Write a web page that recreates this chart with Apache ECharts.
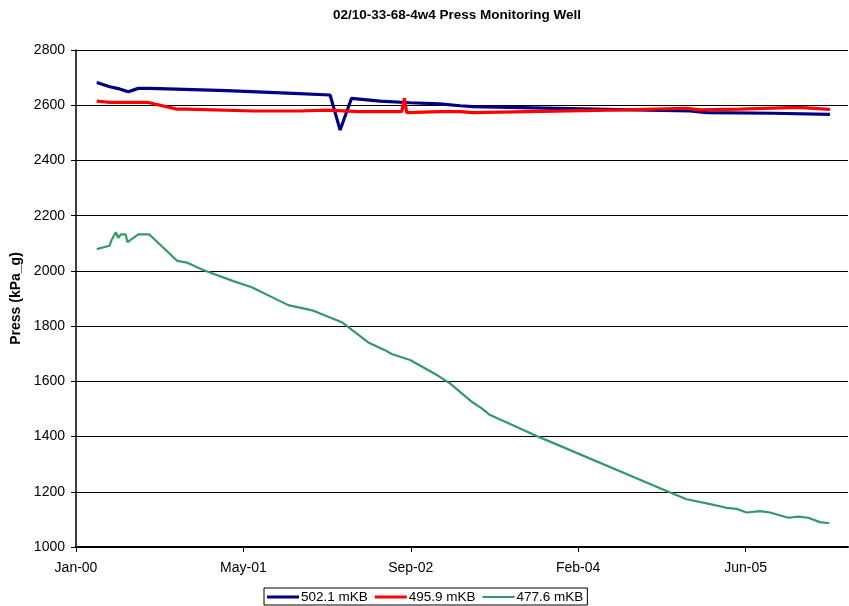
<!DOCTYPE html>
<html>
<head>
<meta charset="utf-8">
<script src="https://cdn.jsdelivr.net/npm/echarts@6/dist/echarts.min.js"></script>
<style>
html,body{margin:0;padding:0;background:#fff;}
#chart{width:849px;height:606px;}
</style>
</head>
<body>
<div id="chart"></div>
<script>
// x values: days since 2000-01-01
var blueDays   = [62, 101, 130, 156, 186, 221, 450, 649, 759, 789, 823, 908, 998, 1087, 1147, 1186, 1585, 1834, 1884, 2082, 2252];
var blueValues = [2682, 2667, 2659, 2649, 2661, 2661, 2653, 2643, 2637, 2510, 2625, 2615, 2609, 2605, 2598, 2595, 2585, 2579, 2573, 2571, 2567];

var redDays   = [62, 101, 216, 301, 331, 530, 669, 749, 848, 973, 981, 988, 1087, 1147, 1186, 1635, 1824, 1864, 1983, 2157, 2252];
var redValues = [2615, 2610, 2610, 2586, 2586, 2579, 2579, 2582, 2577, 2577, 2625, 2573, 2577, 2577, 2573, 2583, 2589, 2583, 2586, 2592, 2585];

var greenDays   = [62, 100, 107, 119, 126, 134, 148, 154, 186, 219, 303, 331, 380, 470, 525, 634, 709, 794, 873, 923, 943, 998, 1082, 1120, 1147, 1182, 1212, 1237, 1386, 1764, 1824, 1884, 1943, 1973, 2003, 2043, 2073, 2128, 2157, 2187, 2222, 2250];
var greenValues = [2079, 2091, 2114, 2140, 2120, 2132, 2132, 2104, 2132, 2132, 2036, 2030, 2003, 1963, 1941, 1876, 1856, 1814, 1741, 1713, 1699, 1677, 1620, 1590, 1562, 1526, 1502, 1478, 1397, 1203, 1173, 1158, 1142, 1138, 1125, 1130, 1125, 1106, 1110, 1106, 1090, 1086];

var seriesNames = ['502.1 mKB', '495.9 mKB', '477.6 mKB'];
var yTicks = {min: 1000, max: 2800, interval: 200};
var months = ['Jan','Feb','Mar','Apr','May','Jun','Jul','Aug','Sep','Oct','Nov','Dec'];

function pairs(xs, ys) { return xs.map(function (x, i) { return [x, ys[i]]; }); }
function dayLabel(d) {
  var dt = new Date(Date.UTC(2000, 0, 1) + d * 86400000);
  var yy = String(dt.getUTCFullYear() % 100);
  if (yy.length < 2) yy = '0' + yy;
  return months[dt.getUTCMonth()] + '-' + yy;
}

var thickIcon = 'path://M0,0L0.01,0M0,0.4L32,0.4L32,3.6L0,3.6ZM0,4L0.01,4';
var thinIcon  = 'path://M0,0L0.01,0M0,1.1L32,1.1L32,2.9L0,2.9ZM0,4L0.01,4';

var chart = echarts.init(document.getElementById('chart'), null, {renderer: 'canvas'});
var font = 'Liberation Sans, Arial, sans-serif';
chart.setOption({
  animation: false,
  backgroundColor: '#ffffff',
  textStyle: {fontFamily: font},
  title: {
    text: '02/10-33-68-4w4 Press Monitoring Well',
    left: 452, top: 3, textAlign: 'center',
    textStyle: {fontFamily: font, fontSize: 13.5, fontWeight: 'bold', color: '#000'}
  },
  grid: {left: 76, right: 1, top: 50, bottom: 59, containLabel: false},
  legend: {
    data: [
      {name: seriesNames[0], icon: thickIcon},
      {name: seriesNames[1], icon: thickIcon},
      {name: seriesNames[2], icon: thinIcon}
    ],
    left: 264, bottom: 1,
    itemWidth: 32, itemHeight: 4, itemGap: 7,
    padding: [1, 4, 0, 3],
    borderColor: '#000', borderWidth: 1,
    textStyle: {fontFamily: font, fontSize: 13.5, color: '#000', padding: [0, 0, 0, -3], lineHeight: 16}
  },
  xAxis: {
    type: 'value', min: 0, max: 2306, interval: 500,
    axisLine: {lineStyle: {color: '#000', width: 2}},
    axisTick: {show: true, length: 5, lineStyle: {color: '#000'}},
    splitLine: {show: false},
    axisLabel: {
      color: '#000', fontSize: 14, fontFamily: font, margin: 14,
      showMaxLabel: false,
      formatter: function (v) { return dayLabel(v); }
    }
  },
  yAxis: {
    type: 'value', min: yTicks.min, max: yTicks.max, interval: yTicks.interval,
    name: 'Press (kPa_g)', nameLocation: 'middle', nameGap: 51,
    nameTextStyle: {fontFamily: font, fontSize: 14, fontWeight: 'bold', color: '#000'},
    axisLine: {show: true, lineStyle: {color: '#000', width: 1.5}},
    axisTick: {show: true, length: 5, lineStyle: {color: '#000'}},
    splitLine: {show: true, lineStyle: {color: '#000', width: 1}},
    axisLabel: {color: '#000', fontSize: 14, fontFamily: font, margin: 11,
      formatter: function (v) { return String(v); }}
  },
  series: [
    {name: seriesNames[0], type: 'line', data: pairs(blueDays, blueValues), symbol: 'none',
     lineStyle: {color: '#000080', width: 3.2}, itemStyle: {color: '#000080'}},
    {name: seriesNames[1], type: 'line', data: pairs(redDays, redValues), symbol: 'none',
     lineStyle: {color: '#ff0000', width: 3.2}, itemStyle: {color: '#ff0000'}},
    {name: seriesNames[2], type: 'line', data: pairs(greenDays, greenValues), symbol: 'none',
     lineStyle: {color: '#339966', width: 2.2}, itemStyle: {color: '#339966'}}
  ]
});
</script>
</body>
</html>
